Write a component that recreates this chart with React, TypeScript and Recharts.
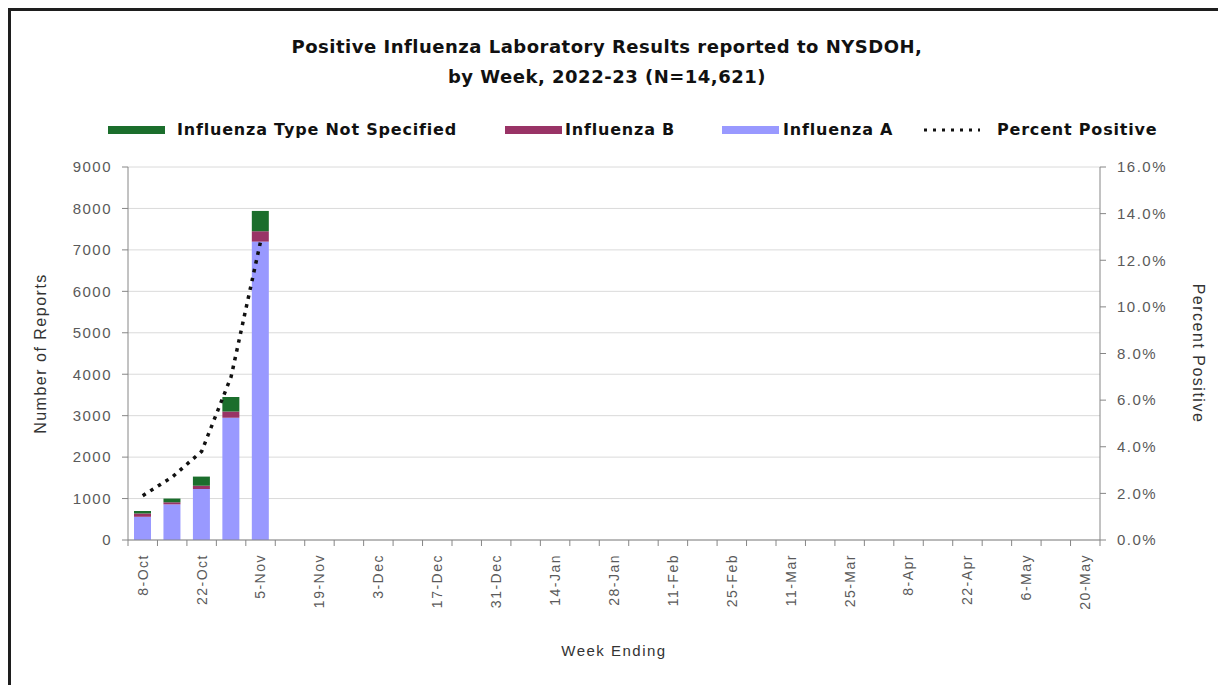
import { Bar, CartesianGrid, ComposedChart, Line, XAxis, YAxis } from "recharts";

const weeks = [
  "8-Oct", "15-Oct", "22-Oct", "29-Oct", "5-Nov", "12-Nov", "19-Nov", "26-Nov",
  "3-Dec", "10-Dec", "17-Dec", "24-Dec", "31-Dec", "7-Jan", "14-Jan", "21-Jan",
  "28-Jan", "4-Feb", "11-Feb", "18-Feb", "25-Feb", "4-Mar", "11-Mar", "18-Mar",
  "25-Mar", "1-Apr", "8-Apr", "15-Apr", "22-Apr", "29-Apr", "6-May", "13-May", "20-May",
];
const fluA = [560, 860, 1230, 2950, 7200];
const fluB = [80, 50, 80, 150, 250];
const notSpecified = [60, 90, 220, 350, 490];
const percentPositive = [1.9, 2.7, 3.8, 7.0, 12.8];
const countTicks = [0, 1000, 2000, 3000, 4000, 5000, 6000, 7000, 8000, 9000];
const percentTicks = [0, 2, 4, 6, 8, 10, 12, 14, 16];

const COLOR_A = "#9999ff";
const COLOR_B = "#993366";
const COLOR_NS = "#1b6e2c";
const AXIS = "#868686";
const TICK_TEXT = "#5a5a5a";
const SANS = "'Liberation Sans', Arial, sans-serif";
const BOLD = "'DejaVu Sans', Verdana, sans-serif";

const W = 1210;
const H = 680;
const LEFT_W = 117;
const RIGHT_W = 121;
const TOP = 156;
const X_H = 151;
const BAND = (W - LEFT_W - RIGHT_W) / weeks.length;

const data = weeks.map((week, i) => ({
  week,
  fluA: fluA[i] ?? null,
  fluB: fluB[i] ?? null,
  notSpecified: notSpecified[i] ?? null,
  percent: percentPositive[i] ?? null,
}));

// category labels on every other week, tick marks between categories
function WeekTick(props: any) {
  const { x, y, payload, index } = props;
  const axisY = y - 13;
  return (
    <g>
      <line x1={x - BAND / 2} x2={x - BAND / 2} y1={axisY} y2={axisY + 6} stroke={AXIS} />
      {index === weeks.length - 1 && (
        <line x1={x + BAND / 2} x2={x + BAND / 2} y1={axisY} y2={axisY + 6} stroke={AXIS} />
      )}
      {index % 2 === 0 && (
        <text
          x={x}
          y={y + 1}
          transform={`rotate(-90, ${x}, ${y + 1})`}
          textAnchor="end"
          dy="0.35em"
          fill={TICK_TEXT}
          fontSize={14}
          fontFamily={SANS}
          letterSpacing={1.5}
        >
          {payload.value}
        </text>
      )}
    </g>
  );
}

const legendItems = [
  { label: "Influenza Type Not Specified", color: COLOR_NS, swatch: 97, text: 166 },
  { label: "Influenza B", color: COLOR_B, swatch: 494, text: 554 },
  { label: "Influenza A", color: COLOR_A, swatch: 711, text: 772 },
];

export default function App() {
  return (
    <div
      style={{
        position: "relative",
        width: W,
        height: H,
        borderTop: "3px solid #1e1e1e",
        borderLeft: "3px solid #1e1e1e",
        borderRight: "1px solid #dcdcdc",
        background: "#fff",
      }}
    >
      <div
        style={{
          position: "absolute",
          top: 21,
          left: 0,
          width: 1192,
          textAlign: "center",
          fontFamily: BOLD,
          fontWeight: "bold",
          fontSize: 18,
          letterSpacing: 0.5,
          lineHeight: "30px",
          color: "#111",
        }}
      >
        <div>Positive Influenza Laboratory Results reported to NYSDOH,</div>
        <div>by Week, 2022-23 (N=14,621)</div>
      </div>

      <div
        style={{
          position: "absolute",
          top: 109,
          left: 0,
          width: W,
          height: 20,
          fontFamily: BOLD,
          fontWeight: "bold",
          fontSize: 16,
          letterSpacing: 0.8,
          color: "#111",
        }}
      >
        {legendItems.map((item) => (
          <div key={item.label}>
            <span style={{ position: "absolute", left: item.swatch, top: 6, width: 57, height: 8, background: item.color }} />
            <span style={{ position: "absolute", left: item.text, top: 0, lineHeight: "20px", whiteSpace: "nowrap" }}>{item.label}</span>
          </div>
        ))}
        <svg style={{ position: "absolute", left: 911, top: 5 }} width={60} height={10}>
          <line x1={2} x2={58} y1={5} y2={5} stroke="#111" strokeWidth={3} strokeDasharray="3 6" />
        </svg>
        <span style={{ position: "absolute", left: 986, top: 0, lineHeight: "20px", whiteSpace: "nowrap" }}>Percent Positive</span>
      </div>

      <ComposedChart
        width={W}
        height={H}
        data={data}
        margin={{ top: TOP, right: 0, bottom: 0, left: 0 }}
        barSize={17}
        style={{ position: "absolute", top: 0, left: 0 }}
      >
        <CartesianGrid yAxisId="count" vertical={false} stroke="#dadada" />
        <XAxis
          dataKey="week"
          interval={0}
          height={X_H}
          tickSize={6}
          tickMargin={7}
          tickLine={false}
          stroke={AXIS}
          tick={<WeekTick />}
          label={{
            value: "Week Ending",
            position: "insideBottom",
            offset: 35,
            fill: "#333",
            fontSize: 15,
            fontFamily: SANS,
            letterSpacing: 1.5,
          }}
        />
        <YAxis
          yAxisId="count"
          orientation="left"
          width={LEFT_W}
          domain={[0, 9000]}
          ticks={countTicks}
          interval={0}
          tickSize={6}
          tickMargin={10}
          stroke={AXIS}
          tick={{ fill: TICK_TEXT, fontSize: 15, fontFamily: SANS, letterSpacing: 1.5 }}
          label={{
            value: "Number of Reports",
            angle: -90,
            position: "insideLeft",
            offset: 29,
            fill: "#333",
            fontSize: 16,
            fontFamily: SANS,
            letterSpacing: 1.5,
            style: { textAnchor: "middle" },
          }}
        />
        <YAxis
          yAxisId="percent"
          orientation="right"
          width={RIGHT_W}
          domain={[0, 16]}
          ticks={percentTicks}
          interval={0}
          tickSize={6}
          tickMargin={11}
          stroke={AXIS}
          tickFormatter={(v: number) => `${v.toFixed(1)}%`}
          tick={{ fill: TICK_TEXT, fontSize: 15, fontFamily: SANS, letterSpacing: 1.5 }}
          label={{
            value: "Percent Positive",
            angle: 90,
            position: "insideRight",
            offset: 22,
            fill: "#333",
            fontSize: 16,
            fontFamily: SANS,
            letterSpacing: 1.5,
            style: { textAnchor: "middle" },
          }}
        />
        <Bar yAxisId="count" dataKey="fluA" stackId="flu" fill={COLOR_A} isAnimationActive={false} />
        <Bar yAxisId="count" dataKey="fluB" stackId="flu" fill={COLOR_B} isAnimationActive={false} />
        <Bar yAxisId="count" dataKey="notSpecified" stackId="flu" fill={COLOR_NS} isAnimationActive={false} />
        <Line
          yAxisId="percent"
          dataKey="percent"
          type="linear"
          stroke="#111"
          strokeWidth={3.5}
          strokeDasharray="3.5 5.5"
          dot={false}
          activeDot={false}
          isAnimationActive={false}
        />
      </ComposedChart>
    </div>
  );
}
